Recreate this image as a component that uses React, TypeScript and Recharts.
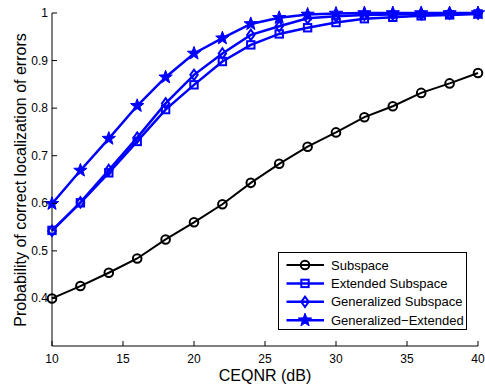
import React from "react";
import {
  ComposedChart,
  Line,
  XAxis,
  YAxis,
  Legend,
  Label
} from "recharts";

const snr = [10, 12, 14, 16, 18, 20, 22, 24, 26, 28, 30, 32, 34, 36, 38, 40];
const subspace = [0.400, 0.426, 0.454, 0.484, 0.524, 0.560, 0.598, 0.643, 0.683, 0.719, 0.749, 0.781, 0.804, 0.832, 0.852, 0.874];
const extended = [0.543, 0.601, 0.664, 0.730, 0.797, 0.849, 0.898, 0.933, 0.956, 0.969, 0.980, 0.988, 0.991, 0.994, 0.996, 0.998];
const generalized = [0.542, 0.602, 0.670, 0.738, 0.810, 0.870, 0.915, 0.954, 0.972, 0.989, 0.993, 0.996, 0.997, 0.998, 0.999, 0.999];
const genExtended = [0.599, 0.669, 0.736, 0.805, 0.865, 0.915, 0.947, 0.977, 0.990, 0.997, 0.999, 1.0, 1.0, 1.0, 1.0, 1.0];

const xTicks = [10, 15, 20, 25, 30, 35, 40];
const yTicks = [0.4, 0.5, 0.6, 0.7, 0.8, 0.9, 1];

const seriesNames = ["Subspace", "Extended Subspace", "Generalized Subspace", "Generalized\u2212Extended"];

const FONT = "'Liberation Sans', Arial, Helvetica, sans-serif";
const BLUE = "#0000ff";

type MarkerKind = "circle" | "square" | "diamond" | "star";

const series: { key: string; name: string; color: string; marker: MarkerKind; width: number }[] = [
  { key: "subspace", name: seriesNames[0], color: "#000000", marker: "circle", width: 2 },
  { key: "extended", name: seriesNames[1], color: BLUE, marker: "square", width: 2.5 },
  { key: "generalized", name: seriesNames[2], color: BLUE, marker: "diamond", width: 2.5 },
  { key: "genExtended", name: seriesNames[3], color: BLUE, marker: "star", width: 2.5 }
];

const data = snr.map((x, i) => ({
  snr: x,
  subspace: subspace[i],
  extended: extended[i],
  generalized: generalized[i],
  genExtended: genExtended[i]
}));

function starPoints(cx: number, cy: number, ro: number, ri: number) {
  const pts: string[] = [];
  for (let k = 0; k < 10; k++) {
    const r = k % 2 === 0 ? ro : ri;
    const a = -Math.PI / 2 + (k * Math.PI) / 5;
    pts.push(`${cx + r * Math.cos(a)},${cy + r * Math.sin(a)}`);
  }
  return pts.join(" ");
}

function Marker({ kind, cx, cy, color }: { kind: MarkerKind; cx: number; cy: number; color: string }) {
  if (kind === "circle") {
    return <circle cx={cx} cy={cy} r={4.3} fill="none" stroke={color} strokeWidth={2} />;
  }
  if (kind === "square") {
    return <rect x={cx - 3.7} y={cy - 3.7} width={7.4} height={7.4} fill="none" stroke={color} strokeWidth={2} />;
  }
  if (kind === "diamond") {
    return (
      <polygon
        points={`${cx},${cy - 5.2} ${cx + 3.7},${cy} ${cx},${cy + 5.2} ${cx - 3.7},${cy}`}
        fill="none"
        stroke={color}
        strokeWidth={2}
      />
    );
  }
  return <polygon points={starPoints(cx, cy, 7, 2.9)} fill={color} stroke={color} strokeWidth={1} />;
}

// MATLAB style: ticks point into the plot box
const BottomTick = (p: any) => (
  <g>
    <line x1={p.x} x2={p.x} y1={p.y} y2={p.y - 5} stroke="#000" />
    <text x={p.x} y={p.y + 17} textAnchor="middle" fontSize={12} fontFamily={FONT} fill="#000">
      {p.payload.value}
    </text>
  </g>
);

const TopTick = (p: any) => <line x1={p.x} x2={p.x} y1={p.y} y2={p.y + 5} stroke="#000" />;

const LeftTick = (p: any) => (
  <g>
    <line x1={p.x} x2={p.x + 5} y1={p.y} y2={p.y} stroke="#000" />
    <text x={p.x - 4} y={p.y + 4} textAnchor="end" fontSize={12} fontFamily={FONT} fill="#000">
      {p.payload.value}
    </text>
  </g>
);

const RightTick = (p: any) => <line x1={p.x - 5} x2={p.x} y1={p.y} y2={p.y} stroke="#000" />;

function LegendBox() {
  return (
    <svg width={189} height={78} style={{ display: "block" }}>
      <rect x={0.5} y={0.5} width={188} height={77} fill="#fff" stroke="#000" />
      {series.map((s, i) => {
        const y = 13 + i * 18.4;
        return (
          <g key={s.key}>
            <line x1={8.5} x2={46} y1={y} y2={y} stroke={s.color} strokeWidth={s.width} />
            <Marker kind={s.marker} cx={27} cy={y} color={s.color} />
            <text x={53} y={y + 4.5} fontSize={13} fontFamily={FONT} fill="#000">
              {s.name}
            </text>
          </g>
        );
      })}
    </svg>
  );
}

export default function App() {
  return (
    <div style={{ position: "absolute", left: 0, top: 0, background: "#fff" }}>
      <ComposedChart width={485} height={385} data={data} margin={{ top: 13, right: 7, bottom: 0, left: 0 }}>
        <XAxis
          dataKey="snr"
          type="number"
          domain={[10, 40]}
          ticks={xTicks}
          interval={0}
          height={39}
          tickSize={0}
          tickMargin={0}
          tick={<BottomTick />}
          axisLine={{ stroke: "#000" }}
        >
          <Label
            content={() => (
              <text x={265} y={381} textAnchor="middle" fontSize={16} fontFamily={FONT} fill="#000">
                CEQNR (dB)
              </text>
            )}
          />
        </XAxis>
        <XAxis
          xAxisId="top"
          orientation="top"
          dataKey="snr"
          type="number"
          domain={[10, 40]}
          ticks={xTicks}
          interval={0}
          height={0}
          tickSize={0}
          tickMargin={0}
          tick={<TopTick />}
          axisLine={{ stroke: "#000" }}
        />
        <YAxis
          type="number"
          domain={[0.3, 1]}
          ticks={yTicks}
          interval={0}
          width={52}
          tickSize={0}
          tickMargin={0}
          tick={<LeftTick />}
          axisLine={{ stroke: "#000" }}
        >
          <Label
            content={() => (
              <text
                x={26}
                y={180}
                transform="rotate(-90 26 180)"
                textAnchor="middle"
                fontSize={16}
                fontFamily={FONT}
                fill="#000"
              >
                Probability of correct localization of errors
              </text>
            )}
          />
        </YAxis>
        <YAxis
          yAxisId="right"
          orientation="right"
          type="number"
          domain={[0.3, 1]}
          ticks={yTicks}
          interval={0}
          width={0}
          tickSize={0}
          tickMargin={0}
          tick={<RightTick />}
          axisLine={{ stroke: "#000" }}
        />
        <Legend
          layout="vertical"
          align="center"
          verticalAlign="middle"
          content={() => <LegendBox />}
          wrapperStyle={{ left: 278, top: 252, width: 189, height: 78 }}
        />
        {series.map((s) => (
          <Line
            key={s.key}
            dataKey={s.key}
            name={s.name}
            type="linear"
            stroke={s.color}
            strokeWidth={s.width}
            isAnimationActive={false}
            dot={(p: any) => <Marker key={`${s.key}-${p.index}`} kind={s.marker} cx={p.cx} cy={p.cy} color={s.color} />}
            activeDot={false}
          />
        ))}
      </ComposedChart>
    </div>
  );
}
